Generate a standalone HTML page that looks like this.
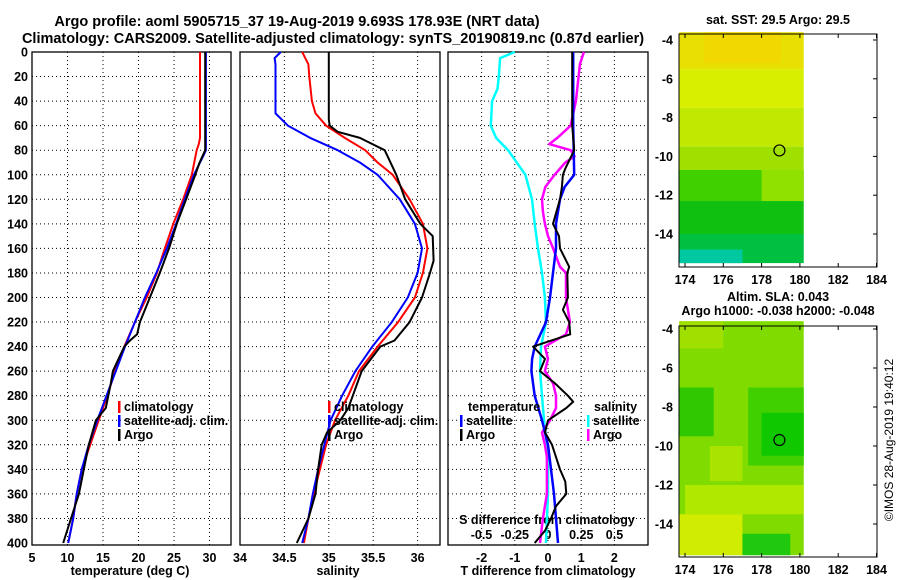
<!DOCTYPE html>
<html><head><meta charset="utf-8"><style>
body{margin:0;background:#fff}
svg{display:block;font-family:"Liberation Sans",sans-serif;font-weight:bold}
text{font-size:12.5px}
</style></head><body>
<svg id="s" width="900" height="580" xmlns="http://www.w3.org/2000/svg">
<text x="297" y="26" text-anchor="middle" style="font-size:14.5px">Argo profile: aoml 5905715_37 19-Aug-2019 9.693S 178.93E (NRT data)</text>
<text x="333" y="43" text-anchor="middle" style="font-size:14.5px">Climatology: CARS2009. Satellite-adjusted climatology: synTS_20190819.nc (0.87d earlier)</text>
<text x="130" y="575" text-anchor="middle">temperature (deg C)</text>
<text x="338" y="575" text-anchor="middle">salinity</text>
<text x="548" y="575" text-anchor="middle">T difference from climatology</text>
<text x="547" y="524" text-anchor="middle">S difference from climatology</text>
<text x="778" y="24" text-anchor="middle">sat. SST: 29.5 Argo: 29.5</text>
<text x="778" y="301" text-anchor="middle">Altim. SLA: 0.043</text>
<text x="778" y="315" text-anchor="middle">Argo h1000: -0.038 h2000: -0.048</text>
<text transform="translate(893,440) rotate(-90)" text-anchor="middle" style="font-weight:normal;font-size:12px">©IMOS 28-Aug-2019 19:40:12</text>
<g id="g"></g>
</svg>
<script>
const depthTicks=[0,20,40,60,80,100,120,140,160,180,200,220,240,260,280,300,320,340,360,380,400];
const tTicks=[5,10,15,20,25,30];
const sTicks=[34,34.5,35,35.5,36];
const dtTicks=[-2,-1,0,1,2];
const dsTicks=[-0.5,-0.25,0,0.25,0.5];
const dsTickLabels=['-0.5','-0.25','0','0.25','0.5'];
// temperature profiles: [depth, value]
const tClim=[[0,28.66],[70,28.66],[75,28.5],[80,28.2],[100,27.5],[120,26.3],[140,24.9],[160,23.7],[180,22.6],[200,21.15],[220,19.5],[240,18],[260,16.7],[280,15.6],[300,14.4],[320,13.2],[340,12],[360,11.3],[380,10.8],[400,10.1]];
const tSat=[[0,29.5],[80,29.5],[85,29.1],[100,27.8],[120,26.5],[140,25.3],[160,24],[180,22.5],[200,20.9],[220,19.5],[240,18.1],[260,16.8],[280,15.5],[300,14.2],[320,13],[340,12],[360,11.3],[380,10.8],[400,10.1]];
const tArgo=[[0,29.4],[80,29.4],[90,28.6],[100,28],[120,26.7],[140,25.4],[160,24.3],[180,23],[200,21.6],[220,20.2],[230,19.8],[235,18.8],[240,18],[260,16.4],[270,16.1],[290,15.4],[300,14],[320,13],[340,12.3],[360,11.6],[380,10.5],[400,9.4]];
const sClim=[[0,34.7],[10,34.77],[20,34.78],[40,34.81],[50,34.85],[60,34.97],[70,35.18],[80,35.41],[90,35.55],[100,35.72],[120,35.91],[140,36.06],[160,36.11],[180,36.06],[200,35.97],[220,35.78],[240,35.55],[260,35.34],[280,35.22],[300,35.07],[320,34.97],[340,34.9],[360,34.83],[380,34.77],[400,34.72]];
const sSat=[[0,34.46],[5,34.39],[10,34.4],[50,34.4],[60,34.54],[70,34.79],[80,35.1],[90,35.35],[100,35.55],[120,35.8],[140,35.97],[160,36.05],[180,36],[200,35.89],[220,35.71],[240,35.49],[260,35.3],[280,35.15],[300,35.02],[320,34.95],[340,34.88],[360,34.82],[380,34.77],[400,34.7]];
const sArgo=[[0,35],[55,35],[60,35.01],[65,35.1],[70,35.35],[80,35.63],[100,35.76],[120,35.86],[140,36.03],[150,36.17],[170,36.18],[180,36.14],[200,36.05],[220,35.91],[235,35.74],[240,35.58],[260,35.37],[280,35.27],[290,35.22],[300,35.13],[310,34.98],[320,34.92],[340,34.88],[360,34.85],[380,34.77],[400,34.64]];
const dtSat=[[0,0.76],[60,0.76],[100,0.79],[110,0.5],[120,0.36],[140,0.24],[160,0.24],[180,0.15],[200,0.06],[220,-0.06],[240,-0.4],[250,-0.48],[260,-0.5],[280,-0.4],[300,-0.18],[320,0],[340,0.09],[360,0.18],[380,0.24],[400,0.3]];
const dtArgo=[[0,0.73],[60,0.73],[80,0.79],[95,0.52],[100,0.45],[110,0.42],[120,0.36],[140,0.15],[150,0.33],[160,0.36],[175,0.64],[180,0.58],[200,0.6],[210,0.45],[220,0.64],[230,0.67],[240,-0.45],[250,-0.09],[260,-0.24],[270,0.21],[280,0.6],[285,0.76],[290,0.55],[300,0],[310,-0.09],[320,0.12],[330,0.24],[340,0.36],[350,0.52],[360,0.55],[370,0.24],[380,0.09],[390,-0.09],[400,-0.4]];
const dsSat=[[0,-0.25],[5,-0.36],[20,-0.37],[30,-0.38],[40,-0.42],[60,-0.43],[70,-0.39],[80,-0.3],[100,-0.17],[120,-0.12],[140,-0.1],[160,-0.075],[180,-0.045],[200,-0.023],[220,-0.015],[240,-0.053],[260,-0.06],[280,-0.045],[300,-0.03],[320,-0.008],[340,0],[360,0],[380,-0.008],[400,-0.015]];
const dsArgo=[[0,0.27],[10,0.24],[20,0.23],[40,0.21],[60,0.17],[70,0.07],[75,0.01],[80,0.17],[85,0.2],[90,0.13],[100,0.05],[110,-0.02],[120,-0.045],[130,-0.038],[140,-0.023],[150,0],[160,0.038],[175,0.09],[180,0.135],[200,0.135],[220,0.165],[230,0.135],[240,-0.023],[250,0],[260,-0.023],[270,0.038],[280,0.06],[290,0.06],[300,0.015],[310,-0.045],[320,-0.023],[330,-0.008],[340,-0.008],[360,-0.008],[380,-0.038],[400,-0.06]];
const mapTicksX=[174,176,178,180,182,184];
const mapTicksY=[-4,-6,-8,-10,-12,-14];
const argoPos=[178.93,-9.693];

const NS='http://www.w3.org/2000/svg';
const G=document.getElementById('g');
function mk(tag,at,parent){const e=document.createElementNS(NS,tag);for(const k in at)e.setAttribute(k,at[k]);(parent||G).appendChild(e);return e;}
const Y0=52,Y1=543;
const yD=d=>Y0+d*(Y1-Y0)/400;
const xT=v=>32+(v-5)*7.1;
const xS=v=>240+(v-34)*88.8;
const xDT=v=>548+v*33.2;
const xDS=v=>548+v*133;
const panels=[[32,231,xT,tTicks,'temperature'],[240,440,xS,sTicks,'salinity'],[448,648,xDT,dtTicks,'difference']];
panels.forEach(([l,r,f,ticks,nm])=>{
  depthTicks.forEach(d=>{if(d>0&&d<400){const e=mk('line',{x1:l,x2:r,y1:yD(d),y2:yD(d),stroke:'#000','stroke-dasharray':'1,3','stroke-width':1});
  }});
  ticks.forEach(t=>{const x=f(t);if(x>l+2&&x<r-2){const e=mk('line',{x1:x,x2:x,y1:Y0,y2:545,stroke:'#000','stroke-dasharray':'1,3'});
  }
  const tx=mk('text',{x:x,y:562,'text-anchor':'middle'});tx.textContent=String(t);
  });
  const b=mk('rect',{x:l,y:Y0,width:r-l,height:545-Y0,fill:'none',stroke:'#000','stroke-width':1.3});
  
});
depthTicks.forEach(d=>{const t=mk('text',{x:28,y:yD(d)+4.5,'text-anchor':'end'});t.textContent=d;
 });
dsTicks.forEach((v,i)=>{const t=mk('text',{x:xDS(v),y:539,'text-anchor':'middle'});t.textContent=dsTickLabels[i];
 });
function line(data,f,col,w,name){const p=data.map(([d,v])=>f(v).toFixed(1)+','+yD(d).toFixed(1)).join(' ');
 const e=mk('polyline',{points:p,fill:'none',stroke:col,'stroke-width':w,'stroke-linejoin':'round'});
 }
line(tClim,xT,'#f00',2,'temp-climatology-line');line(tSat,xT,'#00f',2,'temp-satellite-line');line(tArgo,xT,'#000',2,'temp-argo-line');
line(sClim,xS,'#f00',2,'sal-climatology-line');line(sSat,xS,'#00f',2,'sal-satellite-line');line(sArgo,xS,'#000',2,'sal-argo-line');
line(dsSat,xDS,'#0ff',2.5,'sdiff-satellite-line');line(dsArgo,xDS,'#f0f',2.5,'sdiff-argo-line');
line(dtSat,xDT,'#00f',2.5,'tdiff-satellite-line');line(dtArgo,xDT,'#000',2,'tdiff-argo-line');
function leg(x,y,col,txt,name){if(col){const m=mk('rect',{x:x,y:y-10,width:2.5,height:12,fill:col});}
 const t=mk('text',{x:x+6,y:y});t.textContent=txt;}
leg(118,411,'#f00','climatology','legend-climatology');leg(118,425,'#00f','satellite-adj. clim.','legend-satellite-adj');leg(118,439,'#000','Argo','legend-argo');
leg(328,411,'#f00','climatology','legend2-climatology');leg(328,425,'#00f','satellite-adj. clim.','legend2-satellite-adj');leg(328,439,'#000','Argo','legend2-argo');
leg(462,411,null,'temperature','legend-temperature-heading');leg(460,425,'#00f','satellite','legend-t-satellite');leg(460,439,'#000','Argo','legend-t-argo');
leg(588,411,null,'salinity','legend-salinity-heading');leg(587,425,'#0ff','satellite','legend-s-satellite');leg(587,439,'#f0f','Argo','legend-s-argo');
// maps
function map(top,bot,yTop,yBot,cells,name){
 const xM=v=>685+(v-174)*19.15;
 const yM=v=>yTop+(-4-v)*(yBot-yTop)/10;
 const L=679,R=877;
 cells.forEach(c=>{const e=mk('rect',{x:xM(c[0]),y:yM(c[1]),width:xM(c[2])-xM(c[0]),height:yM(c[3])-yM(c[1]),fill:c[4]});
  });
 const fr=mk('rect',{x:L,y:top,width:R-L,height:bot-top,fill:'none',stroke:'#000'});
 
 mapTicksX.forEach(v=>{const t=mk('text',{x:xM(v),y:bot+17,'text-anchor':'middle'});t.textContent=v;
  mk('line',{x1:xM(v),x2:xM(v),y1:top,y2:top+4,stroke:'#000'});mk('line',{x1:xM(v),x2:xM(v),y1:bot,y2:bot-4,stroke:'#000'});});
 mapTicksY.forEach(v=>{const t=mk('text',{x:673,y:yM(v)+4.5,'text-anchor':'end'});t.textContent=v;
  mk('line',{x1:R,x2:R-4,y1:yM(v),y2:yM(v),stroke:'#000'});});
 const c=mk('circle',{cx:xM(argoPos[0]),cy:yM(argoPos[1]),r:5.5,fill:'none',stroke:'#000','stroke-width':1.2});
 
}
map(34,267,40,234,[
 [173.7,-3.6,180.2,-5.5,'#e8e000'],[175,-3.6,179,-5.2,'#f0d800'],[173.7,-5.5,180.2,-7.5,'#d8f000'],[173.7,-7.5,180.2,-9.5,'#c0e800'],
 [173.7,-9.5,180.2,-10.7,'#a0e000'],[173.7,-10.7,180.2,-12.3,'#40d000'],[178,-10.7,180.2,-12.3,'#90e000'],[173.7,-12.3,180.2,-14,'#10c010'],
 [173.7,-14,180.2,-15.5,'#00c040'],[173.7,-14.8,177,-15.5,'#00c8a0']],'sst-map');
map(326,557,329,524,[
 [173.7,-3.6,180.2,-15.6,'#80dc00'],[173.7,-7,175.5,-9.5,'#30c800'],[177.3,-7,180.2,-11,'#40d000'],[178,-8.3,180.2,-10.5,'#10c800'],
 [173.7,-3.6,176,-5,'#a0e000'],[174,-12,180.2,-13.5,'#b0e800'],[173.7,-13.5,177,-15.6,'#d0ec00'],[177,-14.5,179.5,-15.6,'#20c810'],[175.3,-10,177,-11.8,'#a8e400']],'sla-map');
</script>
</body></html>
